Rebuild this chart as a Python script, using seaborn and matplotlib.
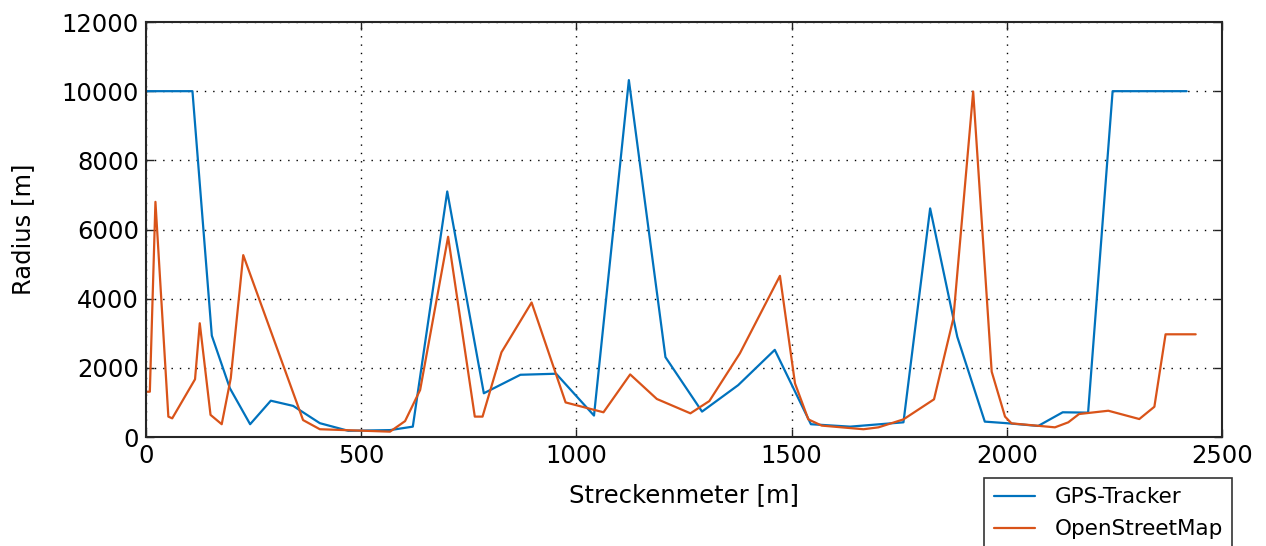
import pandas as pd
import matplotlib
matplotlib.use("Agg")
import matplotlib.pyplot as plt
import seaborn as sns

# GPS-Tracker radius along the track
gps_x = [0, 108, 153, 195, 242, 290, 342, 404, 470, 567, 620, 700, 785, 870, 953,
         1041, 1122, 1207, 1292, 1376, 1461, 1545, 1636, 1760, 1822, 1885, 1949,
         2000, 2073, 2130, 2189, 2246, 2418]
gps_r = [10000, 10000, 2930, 1410, 370, 1050, 900, 400, 180, 200, 300, 7100, 1265,
         1800, 1830, 620, 10320, 2310, 735, 1500, 2520, 370, 300, 425, 6610, 2900,
         445, 400, 320, 715, 705, 10000, 10000]

# OpenStreetMap radius along the track
osm_x = [0, 9, 22, 52, 61, 114, 125, 150, 176, 197, 226, 365, 404, 567, 602, 637,
         702, 764, 782, 826, 896, 975, 1063, 1125, 1187, 1265, 1309, 1380, 1473,
         1508, 1539, 1570, 1667, 1702, 1760, 1831, 1876, 1922, 1965, 1996, 2011,
         2112, 2143, 2168, 2236, 2308, 2343, 2369, 2439]
osm_r = [1310, 1310, 6800, 590, 540, 1670, 3290, 640, 370, 1700, 5260, 490, 225,
         155, 460, 1360, 5790, 590, 590, 2450, 3890, 1000, 715, 1810, 1100, 685,
         1040, 2420, 4660, 1550, 510, 330, 225, 280, 510, 1090, 3430, 9990, 1890,
         590, 395, 280, 425, 665, 760, 520, 875, 2970, 2970]

series_names = ["GPS-Tracker", "OpenStreetMap"]
palette = {"GPS-Tracker": "#0072BD", "OpenStreetMap": "#D95319"}

df = pd.concat([
    pd.DataFrame({"x": gps_x, "r": gps_r, "src": series_names[0]}),
    pd.DataFrame({"x": osm_x, "r": osm_r, "src": series_names[1]}),
], ignore_index=True)

sns.set_style("ticks")
plt.rcParams["font.family"] = ["DejaVu Sans"]
plt.rcParams["text.color"] = "black"
plt.rcParams["axes.labelcolor"] = "black"

fig = plt.figure(figsize=(12.66, 5.46), dpi=100)
ax = fig.add_axes([0.1153, 0.1996, 0.8499, 0.7601])

sns.lineplot(data=df, x="x", y="r", hue="src", palette=palette, estimator=None,
             sort=False, linewidth=1.6, ax=ax, legend=True)

ax.set_xlim(0, 2500)
ax.set_ylim(0, 12000)
ax.set_xticks(range(0, 2501, 500))
ax.set_yticks(range(0, 12001, 2000))
ax.grid(True, color="black", linestyle=(0, (1, 5)), linewidth=1.0)
ax.tick_params(direction="in", length=6, width=1, top=True, right=True,
               labelsize=17.5, colors="#222222", labelcolor="black", pad=5)
for sp in ax.spines.values():
    sp.set_linewidth(1.5)
    sp.set_color("#262626")

ax.set_xlabel("Streckenmeter [m]", fontsize=17.5, labelpad=11)
ax.set_ylabel("Radius [m]", fontsize=17.5, labelpad=19)

handles, labels = ax.get_legend_handles_labels()
ax.get_legend().remove()
leg = fig.legend(handles, labels, loc="upper left", bbox_to_anchor=(0.769, 0.145),
                 bbox_transform=fig.transFigure, fontsize=15.5, frameon=True,
                 fancybox=False, edgecolor="black", borderpad=0.45,
                 labelspacing=0.55, handlelength=1.9, handletextpad=0.9)
leg.get_frame().set_linewidth(1.2)

fig.savefig("out.png", dpi=100)
